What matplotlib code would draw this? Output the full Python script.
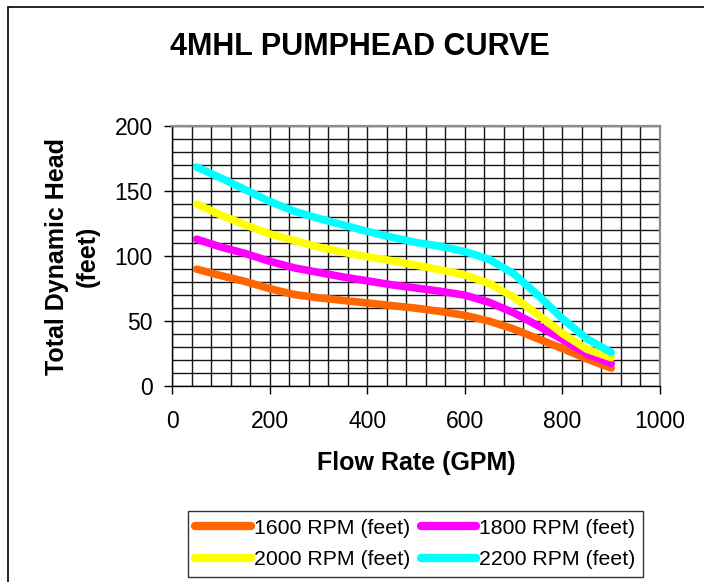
import numpy as np
import matplotlib
matplotlib.use("Agg")
import matplotlib.pyplot as plt
from matplotlib.ticker import MultipleLocator
from matplotlib.patches import Rectangle

plt.rcParams['font.family'] = ['Liberation Sans', 'DejaVu Sans']

#%% data
flow = [50, 100, 150, 200, 250, 300, 350, 400, 450, 500,
        550, 600, 650, 700, 750, 800, 850, 900]
rpm1600 = [90, 85, 80.5, 75, 70.5, 68, 66, 64, 62, 60,
           57.5, 54.5, 50, 44, 36.5, 29, 21, 14]
rpm1800 = [113, 107, 102, 96, 91, 87.5, 84, 81, 78, 75.5,
           73, 70, 64.5, 56.5, 46.5, 36, 25, 17.5]
rpm2000 = [140, 131.5, 124, 117, 112, 107, 103, 99.5, 96.5, 93,
           89.5, 85.5, 79, 68.5, 55, 40.5, 28.5, 22]
rpm2200 = [168.5, 160, 151, 142, 134.5, 129, 124, 119, 114.5, 110.5,
           107.5, 103.5, 97.5, 86.5, 70, 52, 36.5, 26]
labels = ['1600 RPM (feet)', '1800 RPM (feet)', '2000 RPM (feet)', '2200 RPM (feet)']
colors = ['#FF6600', '#FF00FF', '#FFFF00', '#00FFFF']

#%%
fig = plt.figure(figsize=(7.04, 5.82), dpi=100)
ax = fig.add_axes([0.2447, 0.3363, 0.6928, 0.4472])

series = [rpm1600, rpm1800, rpm2000, rpm2200]
lines = []
for ys, c, lab in zip(series, colors, labels):
    ln, = ax.plot(flow, ys, color=c, lw=5.5, label=lab,
                  solid_capstyle='round', solid_joinstyle='round', zorder=3)
    lines.append(ln)

ax.set_xlim(0, 1000)
ax.set_ylim(0, 200)
ax.xaxis.set_major_locator(MultipleLocator(200))
ax.xaxis.set_minor_locator(MultipleLocator(40))
ax.yaxis.set_major_locator(MultipleLocator(50))
ax.yaxis.set_minor_locator(MultipleLocator(10))
ax.grid(which='both', color='#151515', lw=1.0)
ax.set_axisbelow(True)

ax.tick_params(which='major', direction='out', length=6, width=1,
               labelsize=16.5)
ax.tick_params(axis='x', which='major', pad=11)
ax.tick_params(axis='y', which='major', pad=8)
ax.tick_params(which='minor', length=0)

for s in ['top', 'right']:
    ax.spines[s].set_color('#8c8c8c')
    ax.spines[s].set_linewidth(1.6)
for s in ['left', 'bottom']:
    ax.spines[s].set_color('black')
    ax.spines[s].set_linewidth(1)

ax.set_xlabel('Flow Rate (GPM)', fontsize=18, fontweight='bold', labelpad=13)
ax.set_ylabel('Total Dynamic Head\n(feet)', fontsize=18, fontweight='bold',
              labelpad=11, linespacing=1.35)

fig.text(360/704, 1 - 47/582, '4MHL PUMPHEAD CURVE', fontsize=22,
         fontweight='bold', ha='center', va='center')

# legend fills by column, so reorder to get 1600 1800 / 2000 2200 rows
order = [0, 2, 1, 3]
leg = fig.legend([lines[i] for i in order], [labels[i] for i in order],
                 loc='center', bbox_to_anchor=(415.5/704, 1 - 544/582),
                 ncol=2, fontsize=15.3, handlelength=2.6, handletextpad=0.15,
                 columnspacing=0.5, borderpad=0.35, labelspacing=0.6,
                 fancybox=False, framealpha=1, edgecolor='#333333')
leg.get_frame().set_linewidth(1)
for h in leg.get_lines():
    h.set_linewidth(6)

# outer chart border
fig.patches.append(Rectangle((8/704, -0.05), 1.1, 1 - 7/582 + 0.05,
                             transform=fig.transFigure, fill=False,
                             edgecolor='black', lw=1.2))

plt.savefig('out.png', dpi=100)
